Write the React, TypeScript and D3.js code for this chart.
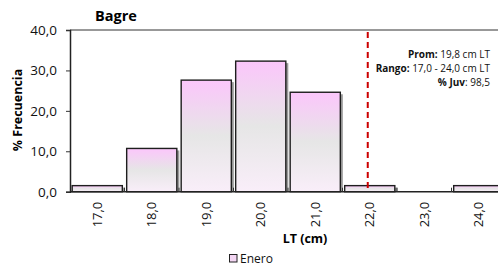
import * as d3 from "d3";
import { useEffect, useRef } from "react";

const categories = ["17,0", "18,0", "19,0", "20,0", "21,0", "22,0", "23,0", "24,0"];
const enero = [1.5, 10.7, 27.6, 32.3, 24.6, 1.5, 0, 1.5];
const yTicks = [0, 10, 20, 30, 40];
const markCategory = "22,0";
const notes = [
  { label: "Prom:", value: " 19,8 cm LT" },
  { label: "Rango:", value: " 17,0 - 24,0 cm LT" },
  { label: "% Juv", value: ": 98,5" },
];

export default function App() {
  const ref = useRef<SVGSVGElement>(null);

  useEffect(() => {
    if (!ref.current) return;
    const svg = d3.select(ref.current);
    svg.selectAll("*").remove();

    const font = "'Open Sans', sans-serif";
    const left = 70,
      right = 506,
      top = 30,
      bottom = 191.7;

    const x = d3.scaleBand().domain(categories).range([left, right]).paddingInner(0.08).paddingOuter(0.04);
    const y = d3.scaleLinear().domain([0, 40]).range([bottom, top]);

    const defs = svg.append("defs");
    const grad = defs
      .append("linearGradient")
      .attr("id", "barGrad")
      .attr("x1", 0)
      .attr("y1", 0)
      .attr("x2", 0)
      .attr("y2", 1);
    grad.append("stop").attr("offset", "0%").attr("stop-color", "#fbc6fb");
    grad.append("stop").attr("offset", "50%").attr("stop-color", "#e6e6e6");
    grad.append("stop").attr("offset", "100%").attr("stop-color", "#f9eef9");

    const bars = enero.map((v, i) => ({ v, c: categories[i] })).filter((d) => d.v > 0);

    // top border of plot area
    svg
      .append("line")
      .attr("x1", left)
      .attr("x2", right)
      .attr("y1", top)
      .attr("y2", top)
      .attr("stroke", "#333")
      .attr("stroke-width", 1);

    // shadows
    svg
      .append("g")
      .selectAll("rect")
      .data(bars)
      .enter()
      .append("rect")
      .attr("x", (d) => (x(d.c) as number) + 2.5)
      .attr("y", (d) => y(d.v) + 2)
      .attr("width", x.bandwidth())
      .attr("height", (d) => bottom - y(d.v) - 2)
      .attr("fill", "#9a9a9a");

    // bars
    svg
      .append("g")
      .selectAll("rect")
      .data(bars)
      .enter()
      .append("rect")
      .attr("x", (d) => x(d.c) as number)
      .attr("y", (d) => y(d.v))
      .attr("width", x.bandwidth())
      .attr("height", (d) => bottom - y(d.v))
      .attr("fill", "url(#barGrad)")
      .attr("stroke", "#1e1e1e")
      .attr("stroke-width", 1.4);

    // y axis
    const ya = svg
      .append("g")
      .attr("transform", `translate(${left},0)`)
      .call(
        d3
          .axisLeft(y)
          .tickValues(yTicks)
          .tickSize(4)
          .tickFormat((d) => d3.format(".1f")(d as number).replace(".", ","))
      );
    ya.select(".domain").attr("stroke", "#222").attr("stroke-width", 1.5);
    ya.selectAll(".tick line").attr("stroke", "#333");
    ya.selectAll("text")
      .attr("x", -13)
      .style("font-family", font)
      .style("font-size", "13.5px")
      .attr("fill", "#111");

    // x axis
    const xa = svg.append("g").attr("transform", `translate(0,${bottom})`);
    xa.append("line")
      .attr("x1", left)
      .attr("x2", right)
      .attr("stroke", "#222")
      .attr("stroke-width", 1.5);
    xa.selectAll("line.tk")
      .data(categories.slice(1))
      .enter()
      .append("line")
      .attr("class", "tk")
      .attr("x1", (d) => (x(d) as number) - (x.step() - x.bandwidth()) / 2)
      .attr("x2", (d) => (x(d) as number) - (x.step() - x.bandwidth()) / 2)
      .attr("y1", -4)
      .attr("y2", 0)
      .attr("stroke", "#333");
    xa.selectAll("text")
      .data(categories)
      .enter()
      .append("text")
      .attr(
        "transform",
        (d) => `translate(${(x(d) as number) + x.bandwidth() / 2 + 4.5},10) rotate(-90)`
      )
      .attr("text-anchor", "end")
      .style("font-family", font)
      .style("font-size", "13px")
      .attr("fill", "#111")
      .text((d) => d);

    // reference line
    const mx = (x(markCategory) as number) + x.bandwidth() / 2 - 2;
    svg
      .append("line")
      .attr("x1", mx)
      .attr("x2", mx)
      .attr("y1", top + 2)
      .attr("y2", bottom)
      .attr("stroke", "#cc0000")
      .attr("stroke-width", 2)
      .attr("stroke-dasharray", "6,4");

    // notes
    const nt = svg
      .append("text")
      .attr("text-anchor", "end")
      .style("font-family", font)
      .style("font-size", "10px")
      .attr("fill", "#111");
    notes.forEach((n, i) => {
      const t = nt.append("tspan").attr("x", 490).attr("y", 57.5 + i * 14.3);
      t.append("tspan").attr("font-weight", "bold").text(n.label);
      t.append("tspan").text(n.value);
    });

    // titles
    svg
      .append("text")
      .attr("x", 116)
      .attr("y", 21)
      .attr("text-anchor", "middle")
      .style("font-family", font)
      .style("font-size", "14.5px")
      .attr("font-weight", "bold")
      .text("Bagre");

    svg
      .append("text")
      .attr("transform", "translate(22,110) rotate(-90)")
      .attr("text-anchor", "middle")
      .style("font-family", font)
      .style("font-size", "12.5px")
      .attr("font-weight", "bold")
      .text("% Frecuencia");

    svg
      .append("text")
      .attr("x", 305)
      .attr("y", 243)
      .attr("text-anchor", "middle")
      .style("font-family", font)
      .style("font-size", "12.5px")
      .attr("font-weight", "bold")
      .text("LT (cm)");

    // legend
    svg
      .append("rect")
      .attr("x", 229.5)
      .attr("y", 254.5)
      .attr("width", 7.5)
      .attr("height", 7.5)
      .attr("fill", "#f3d6f3")
      .attr("stroke", "#222")
      .attr("stroke-width", 1);
    svg
      .append("text")
      .attr("x", 240)
      .attr("y", 262.5)
      .style("font-family", font)
      .style("font-size", "12px")
      .attr("fill", "#111")
      .text("Enero");
  }, []);

  return (
    <svg
      ref={ref}
      width={498}
      height={268}
      style={{ position: "absolute", left: 0, top: 0, background: "#fff" }}
    />
  );
}
